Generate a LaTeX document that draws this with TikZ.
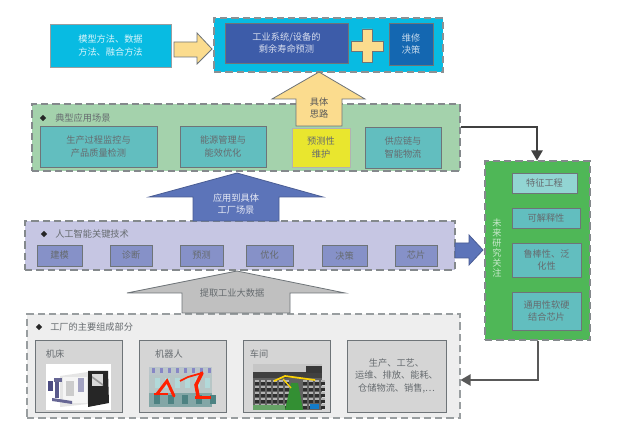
\documentclass[tikz,border=0pt]{standalone}
\usepackage{fontspec}
\setmainfont{Noto Sans CJK SC}
\usetikzlibrary{arrows.meta,shapes.geometric}
\definecolor{cyanb}{HTML}{08BBE2}
\definecolor{dkblue}{HTML}{3D5CA9}
\definecolor{decib}{HTML}{1467B1}
\definecolor{wheat}{HTML}{FBDC8E}
\definecolor{grpgreen}{HTML}{A4D2AC}
\definecolor{teal1}{HTML}{62BEBF}
\definecolor{yel}{HTML}{E9E62E}
\definecolor{grpai}{HTML}{C6C6E3}
\definecolor{aibox}{HTML}{8691C8}
\definecolor{bluearrow}{HTML}{5C74B9}
\definecolor{grayarrow}{HTML}{C0C0C0}
\definecolor{grpfac}{HTML}{EEEEEE}
\definecolor{facbox}{HTML}{D5D5D5}
\definecolor{rgreen}{HTML}{4FB757}
\definecolor{lteal}{HTML}{92D5D3}
\definecolor{edge}{HTML}{6E7478}
\definecolor{txt}{HTML}{666B6F}
\tikzset{
  x=0.75pt,y=-0.75pt,
  boxbase/.style={draw=edge,line width=0.7pt,inner sep=0pt,align=center,font=\fontsize{6.9pt}{9.2pt}\selectfont,text=txt},
  grp/.style={boxbase,dash pattern=on 5.5pt off 3pt,line width=0.8pt,draw=edge!85},
  blockarrow/.style={draw=edge,line width=0.6pt},
  conn/.style={draw=black!75,line width=0.9pt},
  lbl/.style={inner sep=0pt,align=center,font=\fontsize{6.9pt}{9.2pt}\selectfont,text=txt},
  head/.style={lbl,anchor=west},
  bullet/.style={fill=black!85,inner sep=0pt,minimum size=5pt,diamond},
}
\newcommand{\bx}[7]{%
  \pgfmathsetmacro{\bw}{(#5-#3)*0.75}\pgfmathsetmacro{\bh}{(#6-#4)*0.75}%
  \node[boxbase,#1,minimum width=\bw pt,minimum height=\bh pt] (#2) at ({(#3+#5)/2},{(#4+#6)/2}) {#7};}
\begin{document}
\begin{tikzpicture}
\useasboundingbox (0,0) rectangle (618,434);
\fill[white] (0,0) rectangle (618,434);

% groups and connectors
\bx{grp,fill=grpgreen}{apps}{32}{104}{460}{171}{}
\bx{grp,fill=rgreen}{future}{485}{161}{590}{340}{}
\bx{grp,fill=grpfac,draw=edge!70}{factory}{27}{314}{460}{418}{}
\coordinate (c1) at (537,127);
\coordinate (c2) at (538,380);
\draw[conn,-{Triangle[length=7.5pt,width=8.5pt]}] (apps.east |- c1) -- (c1) -- (c1 |- future.north);
\draw[conn,draw=black!65,-{Triangle[length=7.5pt,width=8.5pt]}] (c2 |- future.south) -- (c2) -- (c2 -| factory.east);

% top row
\bx{fill=cyanb,draw=edge!70}{methods}{50}{24}{171}{67}{\color{white!85!cyanb}模型方法、数据\\\color{white!85!cyanb}方法、融合方法}
\draw[blockarrow,fill=wheat] (174,42)--(197,42)--(197,33)--(212,49)--(197,64)--(197,57)--(174,57)--cycle;
\bx{grp,fill=cyanb,draw=edge!80}{goal}{214}{18}{443}{72}{}
\bx{fill=dkblue,draw=edge}{rul}{225}{23}{348}{63}{\color{white!80!dkblue}工业系统/设备的\\\color{white!80!dkblue}剩余寿命预测}
\draw[blockarrow,fill=wheat] (362,29)--(372,29)--(372,41)--(383,41)--(383,51)--(372,51)--(372,62)--(362,62)--(362,51)--(351,51)--(351,41)--(362,41)--cycle;
\bx{fill=decib,draw=edge}{deci}{389}{23}{433}{65}{\color{white!75!decib}维修\\\color{white!75!decib}决策}

% apps group content
\node[bullet] (b1) at (43,118) {};
\node[head] (t1) at (55,118) {典型应用场景};
\bx{fill=teal1}{a1}{40}{126}{157}{167}{生产过程监控与\\产品质量检测}
\bx{fill=teal1}{a2}{180}{126}{266}{167}{能源管理与\\能效优化}
\bx{fill=yel,draw=black!30}{a3}{292}{128}{350}{167}{预测性\\维护}
\bx{fill=teal1}{a4}{365}{127}{441}{168}{供应链与\\智能物流}
\draw[blockarrow,fill=wheat] (319,72)--(365,99)--(342,99)--(342,126)--(296,126)--(296,99)--(272,99)--cycle;
\node[lbl,text=black!65] (upl) at (319,108) {具体\\思路};

% AI group
\bx{grp,fill=grpai}{ai}{25}{221}{455}{270}{}
\node[bullet] (b2) at (44,234) {};
\node[head] (t2) at (55,234) {人工智能关键技术};
\bx{fill=aibox}{k1}{37}{245}{82}{266}{建模}
\bx{fill=aibox}{k2}{110}{245}{152}{266}{诊断}
\bx{fill=aibox}{k3}{180}{245}{223}{266}{预测}
\bx{fill=aibox}{k4}{246}{245}{293}{266}{优化}
\bx{fill=aibox}{k5}{322}{245}{367}{266}{决策}
\bx{fill=aibox}{k6}{395}{245}{437}{266}{芯片}
\draw[blockarrow,fill=bluearrow,draw=bluearrow!80!black] (237,173)--(323,197)--(279,197)--(279,221)--(193,221)--(193,197)--(149,197)--cycle;
\node[lbl,text=white!85!bluearrow] (uparrowl) at (236,204) {应用到具体\\工厂场景};
\draw[blockarrow,fill=grayarrow] (237,271)--(345,293)--(290,293)--(290,313)--(182,313)--(182,293)--(127,293)--cycle;
\node[lbl] (gl) at (232,293) {提取工业大数据};
\draw[blockarrow,fill=bluearrow,draw=bluearrow!80!black] (455,243)--(469,243)--(469,235)--(483,250)--(469,265)--(469,258)--(455,258)--cycle;

% future group content
\node[inner sep=0pt,align=center,font=\fontsize{6.9pt}{7.6pt}\selectfont,text=white!70!rgreen,text width=8pt] (fv) at (497,248) {未\\来\\研\\究\\关\\注};
\bx{fill=lteal}{f1}{512}{173}{577}{193}{特征工程}
\bx{fill=teal1}{f2}{512}{208}{580}{228}{可解释性}
\bx{fill=teal1}{f3}{512}{243}{581}{277}{鲁棒性、泛\\化性}
\bx{fill=teal1}{f4}{512}{292}{581}{330}{通用性软硬\\结合芯片}

% factory content
\node[bullet] (b3) at (39,327) {};
\node[head] (t3) at (50,327) {工厂的主要组成部分};
\bx{fill=facbox}{m1}{35}{340}{122}{412}{}
\bx{fill=facbox}{m2}{139}{340}{226}{412}{}
\bx{fill=facbox}{m3}{243}{340}{330}{412}{}
\bx{fill=facbox}{m4}{347}{340}{446}{412}{生产、工艺、\\运维、排放、能耗、\\仓储物流、销售,…}
\node[lbl] (l1) at (55,354) {机床};
\node[lbl] (l2) at (169,354) {机器人};
\node[lbl] (l3) at (259,354) {车间};

% machine tool picture
\fill[white] (46,364) rectangle (111,410);
\fill[black!10] (60,376) -- (88,372) -- (88,404) -- (60,407) -- cycle;
\fill[white!96!black] (63,377) rectangle (87,403);
\fill[black!85] (88,371) -- (108,371) -- (109,403) -- (88,407) -- cycle;
\fill[black!15] (92,374) rectangle (103,386);
\fill[black!40] (92,376) -- (103,384) -- (103,386) -- (92,378) -- cycle;
\fill[blue!30!black!70] (48,381) rectangle (53,391);
\fill[blue!30!black!60] (54,378) rectangle (62,382);
\fill[blue!30!black!65] (55,382) rectangle (59,398);
\fill[blue!30!black!60] (52,398) -- (72,401) -- (72,404) -- (52,401) -- cycle;
\fill[blue!20!gray!60] (78,378) rectangle (84,392);
\fill[gray!40] (66,381) rectangle (74,396);

% robot picture
\fill[teal!25!gray!45] (149,367) rectangle (212,407);
\fill[cyan!15!gray!55] (149,367) rectangle (212,375);
\fill[teal!40!gray!70] (149,393) rectangle (212,407);
\foreach \xx in {152,160,...,208}{\fill[blue!35!gray!70] (\xx,368) rectangle +(3,5);}
\foreach \xx in {155,165,...,205}{\fill[white!70!teal] (\xx,378) rectangle +(5,10);}
\foreach \xx in {154,168,...,210}{\fill[teal!60!black!70] (\xx,395) rectangle +(6,9);}
\draw[red!75!orange,line width=2.2pt,line cap=round] (157,394)--(167,381)--(174,396);
\fill[red!75!orange] (154,393) rectangle (168,395);
\draw[red!75!orange,line width=2.6pt,line cap=round] (198,396)--(196,385)--(202,373);
\draw[red!75!orange,line width=1.3pt] (202,373)--(188,377)--(180,381);
\fill[red!75!orange] (195,396) rectangle (211,399);

% workshop picture
\fill[black!62] (253,364) rectangle (322,410);
\fill[gray!45] (253,364) rectangle (322,372);
\fill[black!75] (253,372) rectangle (322,378);
\fill[black!78] (306,366) rectangle (322,373);
\foreach \xx in {255,261,...,285}{\foreach \yy in {380,386,...,404}{\fill[black!30] (\xx,\yy) rectangle +(4,2);\fill[black!82] (\xx,\yy)++(0,2) rectangle +(4,3);}}
\foreach \xx in {303,309,...,321}{\foreach \yy in {380,386,...,404}{\fill[black!30] (\xx,\yy) rectangle +(4,2);\fill[black!82] (\xx,\yy)++(0,2) rectangle +(4,3);}}
\fill[green!45!black!80] (291,383) -- (298,383) -- (303,410) -- (285,410) -- cycle;
\fill[green!40!black!60] (253,405) rectangle (285,410);
\draw[yellow!70!orange,line width=1.3pt] (274,381) -- (285,376) -- (315,380);
\draw[yellow!70!orange,line width=1pt] (283,379) -- (291,388);
\fill[cyan!60!blue] (310,404) rectangle (319,409);
\end{tikzpicture}
\end{document}
